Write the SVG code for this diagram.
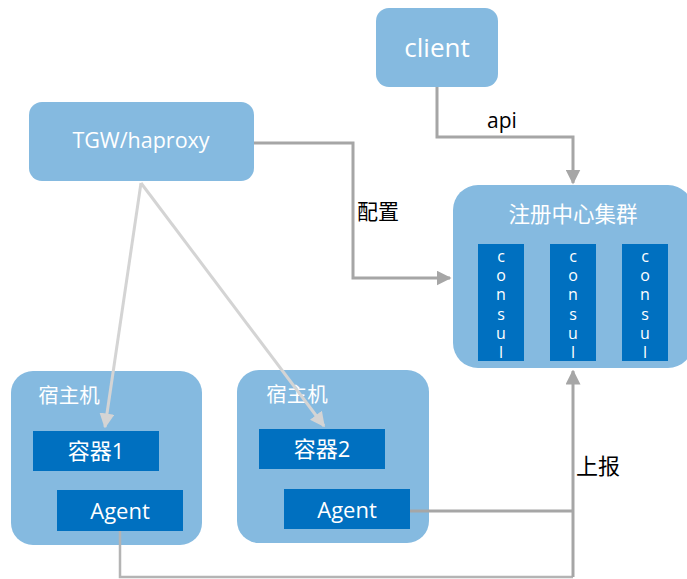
<svg xmlns="http://www.w3.org/2000/svg" width="687" height="579" viewBox="0 0 687 579">
<style>
.lb{fill:#85BAE0}
.db{fill:#0070C0}
.t{font-family:"Open Sans","Noto Sans CJK SC",sans-serif;fill:#fff;text-anchor:middle}
.v{font-family:"Open Sans",sans-serif;fill:#fff;font-size:16px;writing-mode:vertical-rl;text-orientation:upright;letter-spacing:-2.8px}
.k{font-family:"Open Sans","Noto Sans CJK SC",sans-serif;fill:#000}
.c{fill:none;stroke:#A6A6A6;stroke-width:3}
.cl{fill:none;stroke:#D4D4D4;stroke-width:3}
</style>
<defs>
<marker id="ah" viewBox="0 0 10 10" refX="9" refY="5" markerWidth="5" markerHeight="5" orient="auto" markerUnits="strokeWidth"><path d="M0,0L10,5L0,10z" fill="#A6A6A6"/></marker>
<marker id="al" viewBox="0 0 10 10" refX="9" refY="5" markerWidth="5" markerHeight="5" orient="auto" markerUnits="strokeWidth"><path d="M0,0L10,5L0,10z" fill="#D4D4D4"/></marker>
</defs>
<g id="client">
<rect class="lb" x="376" y="8" width="122" height="79" rx="13"/>
<text class="t" x="437" y="57" font-size="26">client</text>
</g>
<g id="tgw">
<rect class="lb" x="29" y="102" width="225" height="79" rx="13"/>
<text class="t" x="141" y="148" font-size="21.5">TGW/haproxy</text>
</g>
<g id="cluster">
<rect class="lb" x="453" y="185" width="240" height="183" rx="25"/>
<text class="t" x="573" y="222" font-size="21.5">注册中心集群</text>
<rect class="db" x="478" y="244" width="46" height="117"/>
<rect class="db" x="550" y="244" width="46" height="117"/>
<rect class="db" x="622" y="244" width="46" height="117"/>
<text class="v" x="501" y="245">consul</text>
<text class="v" x="573" y="245">consul</text>
<text class="v" x="645" y="245">consul</text>
</g>
<g id="host1">
<rect class="lb" x="11" y="371" width="191" height="174" rx="22"/>
<text class="t" x="69" y="403" font-size="20.5">宿主机</text>
<rect class="db" x="33" y="431" width="126" height="40"/>
<text class="t" x="96" y="459" font-size="22">容器1</text>
<rect class="db" x="57" y="490" width="126" height="41"/>
<text class="t" x="120" y="519" font-size="22">Agent</text>
</g>
<g id="host2">
<rect class="lb" x="237" y="370" width="192" height="173" rx="22"/>
<text class="t" x="297" y="402" font-size="20.5">宿主机</text>
<rect class="db" x="259" y="429" width="126" height="40"/>
<text class="t" x="322" y="457" font-size="22">容器2</text>
<rect class="db" x="284" y="489" width="126" height="40"/>
<text class="t" x="347" y="518" font-size="22">Agent</text>
</g>
<g id="connectors">
<path class="c" d="M437,87V137H573V183" marker-end="url(#ah)"/>
<path class="c" d="M254,143H353V278H450" marker-end="url(#ah)"/>
<path class="cl" d="M141,183L105,427" marker-end="url(#al)"/>
<path class="cl" d="M141,183L324,426" marker-end="url(#al)"/>
<path class="c" style="stroke:#B4B4B4;stroke-width:2.5" d="M120,531V577H573"/>
<path class="c" d="M410,511H573"/>
<path class="c" d="M573,577V371" marker-end="url(#ah)"/>
<text class="k" x="487" y="128" font-size="21">api</text>
<text class="k" x="357" y="219" font-size="21">配置</text>
<text class="k" x="576" y="474" font-size="22">上报</text>
</g>
</svg>
